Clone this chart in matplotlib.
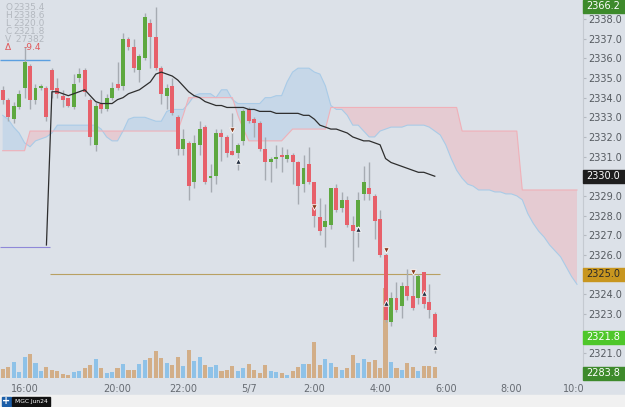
import matplotlib
matplotlib.use("Agg")
import matplotlib.pyplot as plt
from matplotlib.patches import Rectangle
from matplotlib.transforms import IdentityTransform
import numpy as np

# 10-minute candles, MGC Jun24
opens = [2334.4, 2333.9, 2332.9, 2333.5, 2334.5, 2335.6, 2333.9, 2334.5, 2334.5, 2335.4,
         2334.5, 2334.1, 2334.0, 2333.5, 2335.0, 2335.4, 2333.9, 2331.6, 2333.7, 2333.4,
         2334.0, 2334.7, 2334.6, 2337.0, 2336.6, 2335.4, 2336.0, 2337.8, 2337.1, 2335.5,
         2334.1, 2334.6, 2333.0, 2331.4, 2331.7, 2329.7, 2331.6, 2332.5, 2329.9, 2330.0,
         2332.2, 2332.0, 2331.3, 2331.2, 2331.8, 2333.4, 2332.9, 2332.7, 2331.4, 2330.7,
         2330.9, 2331.1, 2330.9, 2331.1, 2330.7, 2329.6, 2330.6, 2329.7, 2327.9, 2327.4,
         2327.5, 2329.4, 2328.4, 2328.8, 2327.5, 2327.4, 2329.1, 2329.4, 2329.0, 2327.8,
         2326.0, 2322.6, 2323.8, 2323.4, 2324.4, 2323.9, 2323.8, 2325.1, 2323.6, 2323.0]
highs = [2334.6, 2334.0, 2333.8, 2334.4, 2336.6, 2335.7, 2334.7, 2334.7, 2334.6, 2335.5,
         2335.0, 2334.4, 2334.0, 2335.2, 2335.5, 2335.5, 2334.0, 2333.8, 2334.4, 2334.2,
         2334.8, 2335.8, 2337.3, 2337.1, 2337.0, 2336.2, 2338.3, 2338.0, 2338.6, 2335.6,
         2334.7, 2335.0, 2333.1, 2332.4, 2331.8, 2332.1, 2332.8, 2332.6, 2330.6, 2332.4,
         2332.4, 2332.1, 2333.2, 2331.7, 2333.4, 2333.5, 2333.0, 2332.8, 2332.0, 2331.0,
         2331.6, 2331.5, 2331.4, 2331.2, 2330.8, 2331.1, 2331.5, 2329.7, 2328.9, 2328.6,
         2329.4, 2329.6, 2329.2, 2329.0, 2328.0, 2329.2, 2330.5, 2330.7, 2329.1, 2328.3,
         2326.1, 2324.1, 2324.6, 2324.6, 2325.3, 2325.1, 2325.0, 2325.1, 2324.5, 2323.1]
lows = [2333.7, 2332.8, 2332.7, 2333.4, 2334.0, 2333.4, 2333.7, 2334.4, 2332.8, 2334.0,
        2334.0, 2333.5, 2333.5, 2333.4, 2334.8, 2334.1, 2331.6, 2331.3, 2333.2, 2333.3,
        2333.9, 2334.4, 2334.4, 2336.4, 2335.3, 2334.8, 2335.9, 2335.5, 2335.4, 2333.7,
        2333.4, 2333.1, 2331.1, 2331.1, 2328.8, 2329.4, 2331.1, 2329.6, 2329.2, 2329.6,
        2330.8, 2331.0, 2331.1, 2330.3, 2331.6, 2332.7, 2332.0, 2331.3, 2329.8, 2329.7,
        2330.4, 2330.2, 2330.7, 2329.6, 2328.6, 2329.2, 2329.6, 2327.4, 2327.0, 2326.4,
        2327.3, 2328.2, 2328.2, 2327.4, 2325.7, 2326.4, 2328.8, 2328.8, 2326.8, 2325.9,
        2322.6, 2322.4, 2323.1, 2322.8, 2323.7, 2323.2, 2323.5, 2323.3, 2322.8, 2321.0]
closes = [2333.9, 2333.0, 2333.6, 2334.2, 2335.8, 2333.9, 2334.5, 2334.6, 2333.0, 2334.4,
          2334.2, 2333.9, 2333.6, 2334.7, 2335.2, 2334.3, 2332.0, 2333.6, 2333.4, 2334.0,
          2334.5, 2334.5, 2337.0, 2336.6, 2335.5, 2336.1, 2338.1, 2337.1, 2335.5, 2334.2,
          2334.5, 2333.2, 2331.4, 2331.9, 2329.5, 2331.7, 2332.4, 2329.7, 2330.0, 2332.2,
          2332.0, 2331.2, 2331.1, 2331.6, 2333.3, 2332.8, 2332.7, 2331.4, 2330.7, 2330.9,
          2331.0, 2331.0, 2331.1, 2330.7, 2329.5, 2330.4, 2329.7, 2328.0, 2327.2, 2327.7,
          2329.4, 2328.3, 2328.8, 2327.5, 2327.2, 2328.8, 2329.7, 2329.1, 2327.7, 2326.0,
          2322.7, 2323.8, 2323.2, 2324.4, 2323.9, 2323.3, 2324.9, 2323.5, 2323.2, 2321.8]
volumes = [180, 226, 326, 126, 420, 486, 294, 134, 214, 166,
           134, 80, 60, 120, 140, 200, 260, 386, 200, 100,
           120, 200, 280, 166, 160, 280, 354, 400, 540, 400,
           300, 266, 420, 234, 560, 340, 414, 254, 214, 254,
           146, 160, 234, 140, 200, 280, 160, 106, 254, 140,
           120, 94, 60, 140, 226, 280, 280, 720, 254, 380,
           294, 214, 166, 200, 460, 300, 380, 326, 354, 200,
           1800, 326, 200, 154, 294, 226, 140, 240, 240, 226]

# moving average, starts at bar 8
ma_start = 8
ma = [2326.5, 2334.3, 2334.3, 2334.2, 2334.1, 2334.2, 2334.3, 2334.4, 2334.1, 2333.8,
      2333.7, 2333.7, 2333.7, 2333.9, 2334.0, 2334.2, 2334.3, 2334.4, 2334.6, 2334.8,
      2335.2, 2335.3, 2335.2, 2335.1, 2334.9, 2334.6, 2334.3, 2334.1, 2334.0, 2333.8,
      2333.7, 2333.6, 2333.6, 2333.5, 2333.5, 2333.5, 2333.5, 2333.4, 2333.4, 2333.3,
      2333.3, 2333.3, 2333.2, 2333.2, 2333.2, 2333.2, 2333.2, 2333.1, 2333.1, 2332.9,
      2332.6, 2332.5, 2332.4, 2332.4, 2332.3, 2332.2, 2332.0, 2331.9, 2331.8, 2331.8,
      2331.7, 2331.6, 2330.9, 2330.7, 2330.6, 2330.5, 2330.4, 2330.3, 2330.2, 2330.2,
      2330.1, 2330.0]

# ichimoku cloud spans (shifted 26 bars forward)
span_a = [2333.1, 2332.9, 2332.5, 2332.2, 2331.7, 2331.5, 2331.8, 2331.9, 2332.0, 2332.2,
          2332.6, 2332.6, 2332.6, 2332.6, 2332.6, 2332.6, 2332.6, 2332.6, 2332.4, 2332.0,
          2331.8, 2331.8, 2332.3, 2332.9, 2333.0, 2333.0, 2333.0, 2332.9, 2332.8, 2332.8,
          2333.3, 2333.4, 2333.4, 2333.4, 2333.7, 2334.1, 2334.2, 2334.2, 2334.2, 2334.0,
          2334.4, 2334.4, 2333.9, 2333.7, 2333.7, 2333.7, 2333.7, 2333.7, 2334.0, 2334.0,
          2334.1, 2334.1, 2334.8, 2335.3, 2335.5, 2335.5, 2335.5, 2335.3, 2335.2, 2334.6,
          2333.6, 2333.4, 2333.4, 2333.1, 2332.6, 2332.6, 2332.3, 2332.0, 2332.0, 2332.3,
          2332.4, 2332.5, 2332.5, 2332.5, 2332.6, 2332.6, 2332.6, 2332.6, 2332.5, 2332.3,
          2332.1, 2331.6, 2330.9, 2330.3, 2329.9, 2329.6, 2329.5, 2329.3, 2329.3, 2329.3,
          2329.2, 2329.2, 2329.1, 2329.1, 2329.0, 2328.8, 2328.1, 2327.6, 2327.2, 2326.9,
          2326.5, 2326.2, 2325.9, 2325.4, 2324.9, 2324.5]
span_b = ([2331.3] * 5 + [2332.3] * 28 + [2333.1] + [2334.0] * 9 + [2333.1, 2332.4]
          + [2331.8] * 7 + [2332.1] + [2332.4] * 7 + [2333.5] * 24 + [2332.3] * 11
          + [2329.3] * 11)

# signal markers
sell_bars = [42, 57, 70, 75]
sell_prices = [2332.35, 2328.43, 2326.24, 2325.12]
buy_bars = [43, 65, 70, 77, 79]
buy_prices = [2330.78, 2327.31, 2323.55, 2324.06, 2321.31]

tick_pos = [4, 21, 33, 45, 57, 69, 81, 93, 105]
tick_labels = ["16:00", "20:00", "22:00", "5/7", "2:00", "4:00", "6:00", "8:00", "10:00"]
price_ticks = [2321, 2323, 2324, 2326, 2327, 2328, 2329, 2331, 2332, 2333, 2334,
               2335, 2336, 2337, 2338]

bg = "#dce1e8"
red = "#e7606a"
green = "#5ea83f"

fig = plt.figure(figsize=(6.25, 4.07), dpi=100, facecolor=bg)
W, H = 625, 407
rect = [0, 29 / H, 583 / W, 378 / H]

vax = fig.add_axes(rect, zorder=1)
vax.set_facecolor(bg)
ax = fig.add_axes(rect, zorder=2)
ax.patch.set_visible(False)

n = len(opens)
x = np.arange(n)
up = np.array(closes) >= np.array(opens)

# volume
vcol = ["#8ec2e8" if u else "#d2ae88" for u in up]
vax.bar(x, volumes, width=0.75, color=vcol, linewidth=0)
vax.set_xlim(-0.49, 106.1)
vax.set_ylim(0, 7560)
vax.axis("off")

# cloud
xc = np.arange(len(span_a))
a = np.array(span_a)
b = np.array(span_b)
ax.fill_between(xc, a, b, where=a >= b, color="#c6d7e8", interpolate=True, lw=0, zorder=1)
ax.fill_between(xc, a, b, where=a < b, color="#e5cbd2", interpolate=True, lw=0, zorder=1)
ax.plot(xc, a, color="#a9cbe7", lw=0.8, zorder=2)
ax.plot(xc, b, color="#f0b0b8", lw=0.8, zorder=2)

# level lines
ax.hlines(2335.9, -0.5, 8.6, color="#5b9fe0", lw=1, zorder=3)
ax.hlines(2326.4, -0.5, 8.6, color="#8f88d8", lw=0.8, zorder=3)
ax.hlines(2325.0, 8.6, 80, color="#b8a062", lw=0.8, zorder=3)

# candles
ax.vlines(x, lows, highs, color="#a6abb2", lw=1, zorder=4)
body_h = np.maximum(np.abs(np.array(closes) - np.array(opens)), 0.06)
body_b = np.minimum(opens, closes)
ax.bar(x, body_h, bottom=body_b, width=0.72, color=[green if u else red for u in up],
       linewidth=0, zorder=5)

# moving average
ax.plot(np.arange(ma_start, ma_start + len(ma)), ma, color="#2e2e2e", lw=0.9, zorder=6)

# markers
ax.scatter(sell_bars, sell_prices, marker="v", s=16, color="#8a3a1c",
           edgecolors="white", linewidths=0.6, zorder=7)
ax.scatter(buy_bars, buy_prices, marker="^", s=16, color="#263143",
           edgecolors="white", linewidths=0.6, zorder=7)

ax.set_xlim(-0.49, 106.1)
ax.set_ylim(2319.73, 2338.97)
for s in ["top", "left", "bottom"]:
    ax.spines[s].set_visible(False)
ax.spines["right"].set_color("#c5cad1")
ax.yaxis.tick_right()
ax.set_yticks(price_ticks)
ax.set_yticklabels([f"{v:.1f}" for v in price_ticks])
ax.tick_params(axis="y", colors="#b5bac1", labelcolor="#555a60", labelsize=7,
               length=2, pad=2)
ax.set_xticks(tick_pos)
ax.set_xticklabels(tick_labels)
ax.tick_params(axis="x", length=0, labelcolor="#666b72", labelsize=7, pad=4)

# cover overflow of time labels under price scale
fig.patches.append(Rectangle((584, 14), 41, 14, transform=IdentityTransform(),
                             color=bg, zorder=5))
# bottom strip
fig.patches.append(Rectangle((0, 0), W, 12, transform=IdentityTransform(),
                             color="#f1f1f1", zorder=5))
fig.patches.append(Rectangle((2, 1.5), 9, 9, transform=IdentityTransform(),
                             color="#1c5ea8", zorder=6))
fig.text(6.5, 6, "+", transform=IdentityTransform(), color="white", fontsize=7,
         fontweight="bold", ha="center", va="center", zorder=7)
fig.patches.append(Rectangle((12, 1.5), 38, 9, transform=IdentityTransform(),
                             color="#111111", zorder=6))
fig.text(31, 6, "MGC Jun24", transform=IdentityTransform(), color="white", fontsize=4.3,
         ha="center", va="center", zorder=7)


def tag(ypix, text, fc, tc):
    fig.patches.append(Rectangle((583, ypix - 6.5), 42, 13, transform=IdentityTransform(),
                                 color=fc, zorder=8))
    fig.text(586, ypix, text, transform=IdentityTransform(), color=tc, fontsize=7,
             ha="left", va="center", zorder=9)


def ypix(price):
    return ax.transData.transform((0, price))[1]


tag(H - 6, "2366.2", "#3d8a2b", "white")
tag(ypix(2330.0), "2330.0", "#1e1e1e", "white")
tag(ypix(2325.0), "2325.0", "#c8961f", "#2a2a2a")
tag(ypix(2321.8), "2321.8", "#4ec72a", "white")
tag(H - 373, "2283.8", "#3d8a2b", "white")

# ohlc readout
info = [("O", "2335.4"), ("H", "2338.6"), ("L", "2320.0"), ("C", "2321.8"), ("V", " 27382")]
for k, (lab, val) in enumerate(info):
    yy = H - 7 - 8 * k
    fig.text(5, yy, lab, transform=IdentityTransform(), color="#b3b8bf", fontsize=6.5,
             va="center")
    fig.text(13, yy, val, transform=IdentityTransform(), color="#b3b8bf", fontsize=6.5,
             va="center")
fig.text(5, H - 47, "Δ", transform=IdentityTransform(), color="#e0585a", fontsize=6.5,
         va="center")
fig.text(24, H - 47, "-9.4", transform=IdentityTransform(), color="#e0585a", fontsize=6.5,
         va="center")

fig.savefig("out.png", dpi=100, facecolor=bg)
